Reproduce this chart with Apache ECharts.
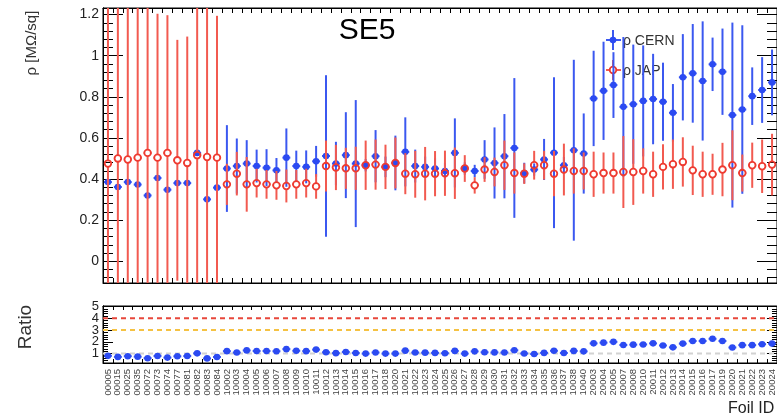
<!DOCTYPE html>
<html><head><meta charset="utf-8">
<script src="https://cdn.jsdelivr.net/npm/echarts@6/dist/echarts.min.js"></script>
<style>html,body{margin:0;padding:0;background:#fff}#c{width:777px;height:417px}</style>
</head><body><div id="c"></div>
<script>
const foilIds = ['00005','00015','00025','00035','00072','00073','00074','00077','00081','00082','00083','00084',
'10002','10003','10004','10005','10006','10007','10008','10009','10010','10011','10012','10013','10014','10015','10016','10017','10018','10020',
'10021','10022','10023','10024','10025','10026','10027','10028','10029','10030','10031','10032','10033','10034','10035','10036','10037','10038','10040',
'20003','20004','20005','20007','20008','20010','20011','20012','20013','20014','20015','20016','20017','20019','20020','20021','20022','20023','20024'];
const cernRho = [0.385,0.361,0.385,0.373,0.320,0.405,0.348,0.380,0.380,0.527,0.301,0.358,
0.451,0.463,0.475,0.463,0.455,0.442,0.504,0.463,0.459,0.486,0.512,0.475,0.516,0.475,0.467,0.511,0.459,0.478,
0.532,0.463,0.459,0.451,0.439,0.527,0.451,0.439,0.495,0.478,0.511,0.551,0.429,0.446,0.495,0.528,0.467,0.540,0.524,
0.792,0.829,0.857,0.751,0.764,0.780,0.789,0.776,0.722,0.895,0.914,0.877,0.958,0.922,0.711,0.738,0.803,0.833,0.870];
const cernErr = [0,0,0,0,0,0,0,0,0,0,0,0,
0.211,0.134,0.114,0.080,0.090,0.060,0.142,0.075,0.080,0.075,0.393,0.106,0.209,0.309,0.030,0.127,0.050,0.133,
0.168,0.080,0.050,0.050,0.040,0.168,0.030,0.030,0.094,0.173,0.205,0.340,0.050,0.030,0.100,0.367,0.040,0.440,0.195,
0.232,0.239,0.160,0.340,0.290,0.270,0.220,0.190,0.140,0.210,0.240,0.290,0.130,0.210,0.450,0.410,0.140,0.160,0.160];
const japRho = [0.475,0.500,0.495,0.504,0.527,0.504,0.527,0.491,0.478,0.516,0.507,0.504,
0.374,0.426,0.374,0.380,0.374,0.369,0.366,0.374,0.380,0.364,0.463,0.456,0.452,0.452,0.467,0.470,0.459,0.478,
0.426,0.423,0.426,0.426,0.428,0.428,0.451,0.369,0.446,0.434,0.467,0.429,0.426,0.467,0.467,0.426,0.446,0.439,0.439,
0.423,0.429,0.429,0.434,0.434,0.439,0.423,0.459,0.472,0.483,0.442,0.423,0.423,0.446,0.467,0.429,0.467,0.462,0.470];
const japErr = [1.0,1.0,1.0,1.0,0.9,0.70,0.67,0.586,0.615,0.9,0.9,0.69,
0.100,0.106,0.133,0.070,0.070,0.070,0.080,0.070,0.070,0.060,0.124,0.110,0.100,0.105,0.120,0.122,0.108,0.124,
0.100,0.114,0.130,0.110,0.110,0.125,0.065,0.040,0.060,0.070,0.120,0.100,0.050,0.070,0.070,0.110,0.126,0.110,0.090,
0.110,0.100,0.100,0.175,0.160,0.110,0.110,0.110,0.120,0.120,0.120,0.110,0.100,0.130,0.170,0.090,0.110,0.130,0.150];
const ratio = [0.81,0.72,0.78,0.74,0.61,0.80,0.66,0.77,0.79,1.02,0.59,0.71,
1.21,1.09,1.27,1.22,1.22,1.20,1.38,1.24,1.21,1.34,1.11,1.04,1.14,1.05,1.00,1.09,1.00,1.00,
1.25,1.09,1.08,1.06,1.03,1.23,1.00,1.19,1.11,1.10,1.09,1.28,1.01,0.96,1.06,1.24,1.05,1.23,1.19,
1.87,1.93,2.00,1.73,1.76,1.78,1.87,1.69,1.53,1.85,2.07,2.07,2.26,2.07,1.52,1.72,1.72,1.80,1.85];
const ratioRefLines = [1, 3, 4];
const rhoTicks = [0, 0.2, 0.4, 0.6, 0.8, 1, 1.2];
const ratioTicks = [1, 2, 3, 4, 5];
const ratioLabelsOdd = [1, 3, 5];
const ratioLabelsEven = [2, 4];

const BLUE = '#2b4af2', BLUE_LINE = '#3b58f0', RED = '#ee3a30', RED_LINE = '#f25a50';
const FONT = 'Liberation Sans, Arial, sans-serif';

function minorList(lo, hi, step, majors){
  const out = [];
  for (let k = Math.ceil(lo/step - 1e-9); k*step <= hi + 1e-9; k++){
    const v = +(k*step).toFixed(4);
    if (!majors.some(m => Math.abs(m - v) < 1e-6)) out.push(v);
  }
  return out;
}
const rhoMinor = minorList(-0.1, 1.23, 0.04, rhoTicks);
const ratioMinor = minorList(0.2, 5.0, 0.2, ratioTicks);

function clampY(cs, y){ return Math.max(cs.y, Math.min(cs.y + cs.height, y)); }
function seg(x1,y1,x2,y2,color,w){ return {type:'line', shape:{x1,y1,x2,y2}, style:{stroke:color, lineWidth:w}}; }

function renderFilled(params, api){
  const cs = params.coordSys;
  const i = api.value(0), v = api.value(1), e = api.value(2);
  const p = api.coord([i, v]);
  const hw = api.size([1, 0])[0] * 0.4;
  const ch = [];
  if (e > 0){
    const yt = clampY(cs, api.coord([i, v + e])[1]);
    const yb = clampY(cs, api.coord([i, v - e])[1]);
    ch.push(seg(p[0], yt, p[0], yb, BLUE_LINE, 2));
  }
  ch.push(seg(p[0]-hw, p[1], p[0]+hw, p[1], BLUE_LINE, 2));
  ch.push({type:'circle', shape:{cx:p[0], cy:p[1], r:3.3}, style:{fill:BLUE}});
  return {type:'group', children: ch};
}
function renderOpen(params, api){
  const cs = params.coordSys;
  const i = api.value(0), v = api.value(1), e = api.value(2);
  const p = api.coord([i, v]);
  const hw = api.size([1, 0])[0] * 0.4;
  const r = 3.3;
  const yt = clampY(cs, api.coord([i, v + e])[1]);
  const yb = clampY(cs, api.coord([i, v - e])[1]);
  const ch = [];
  if (yt < p[1]-r) ch.push(seg(p[0], yt, p[0], p[1]-r, RED_LINE, 2));
  if (yb > p[1]+r) ch.push(seg(p[0], p[1]+r, p[0], yb, RED_LINE, 2));
  ch.push(seg(p[0]-hw, p[1], p[0]-r, p[1], RED_LINE, 2));
  ch.push(seg(p[0]+r, p[1], p[0]+hw, p[1], RED_LINE, 2));
  ch.push({type:'circle', shape:{cx:p[0], cy:p[1], r:r}, style:{fill:'rgba(0,0,0,0)', stroke:RED, lineWidth:1.8}});
  return {type:'group', children: ch};
}
const refColors = ['#d2d2d2', '#f5c243', '#e8473b'];
function renderRef(params, api){
  const cs = params.coordSys;
  const y = api.coord([0, api.value(1)])[1];
  return {type:'line', shape:{x1:cs.x, y1:y, x2:cs.x+cs.width, y2:y},
    style:{stroke: refColors[params.dataIndex], lineWidth:2, lineDash:[5,4]}};
}

const catAxis = (grid, pos, showLabel, tickLen) => ({
  type:'category', gridIndex:grid, position:pos, data:foilIds, boundaryGap:true,
  axisLine:{show:true, onZero:false, lineStyle:{color:'#000', width:1}},
  axisTick:{show:true, inside:true, length:tickLen, interval:0, lineStyle:{color:'#000'}},
  axisLabel: showLabel ? {show:true, interval:0, rotate:90, fontSize:9.5, margin:6, color:'#444', fontFamily:FONT} : {show:false},
  splitLine:{show:false}
});
const valAxis = (grid, pos, min, max, ticks, len, labelVals, fs) => ({
  type:'value', gridIndex:grid, position:pos, min:min, max:max, offset:0,
  axisLine:{show:true, onZero:false, lineStyle:{color:'#000', width:1}},
  axisTick:{show:true, inside:true, length:len, customValues:ticks, lineStyle:{color:'#000'}},
  axisLabel: labelVals ? {show:true, customValues:labelVals, margin:4, fontSize:fs, color:'#222', fontFamily:FONT,
     showMinLabel:true, showMaxLabel:true, hideOverlap:false,
     formatter: v => String(+(+v).toFixed(2))} : {show:false},
  splitLine:{show:false}
});

const chart = echarts.init(document.getElementById('c'), null, {renderer:'canvas'});
chart.setOption({
  animation:false,
  backgroundColor:'#fff',
  grid:[
    {left:103, top:8, width:675, height:275, show:true, borderColor:'#000', borderWidth:1, backgroundColor:'transparent'},
    {left:103, top:306, width:675, height:57, show:true, borderColor:'#000', borderWidth:1, backgroundColor:'transparent'}
  ],
  xAxis:[ catAxis(0,'bottom',false,5), catAxis(0,'top',false,5), catAxis(1,'bottom',true,4), catAxis(1,'top',false,4) ],
  yAxis:[
    valAxis(0,'left',-0.106,1.232,rhoTicks,20,rhoTicks,14),
    valAxis(0,'left',-0.106,1.232,rhoMinor,10,null),
    valAxis(0,'right',-0.106,1.232,rhoTicks,20,null),
    valAxis(0,'right',-0.106,1.232,rhoMinor,10,null),
    valAxis(1,'left',0.2,5.05,ratioTicks,10,ratioLabelsOdd,13),
    valAxis(1,'left',0.2,5.05,ratioMinor,5,ratioLabelsEven,13),
    valAxis(1,'right',0.2,5.05,ratioTicks,10,null),
    valAxis(1,'right',0.2,5.05,ratioMinor,5,null)
  ],
  series:[
    {type:'custom', name:'ρ CERN', xAxisIndex:0, yAxisIndex:0, renderItem:renderFilled, z:3,
     data: cernRho.map((v,i)=>[i, v, cernErr[i]])},
    {type:'custom', name:'ρ JAP', xAxisIndex:0, yAxisIndex:0, renderItem:renderOpen, z:4,
     data: japRho.map((v,i)=>[i, v, japErr[i]])},
    {type:'custom', name:'ref', xAxisIndex:2, yAxisIndex:4, renderItem:renderRef, z:2,
     data: ratioRefLines.map(v=>[0, v])},
    {type:'custom', name:'Ratio', xAxisIndex:2, yAxisIndex:4, renderItem:renderFilled, z:5,
     data: ratio.map((v,i)=>[i, v, 0])}
  ],
  graphic:[
    {type:'text', x:367, y:31, z:10, style:{text:'SE5', fontSize:30, fontFamily:FONT, fill:'#000', align:'center', verticalAlign:'middle'}},
    {type:'text', x:32, y:43, rotation:Math.PI/2, z:10, style:{text:'ρ [MΩ/sq]', fontSize:15, fontFamily:FONT, fill:'#333', align:'center', verticalAlign:'middle'}},
    {type:'text', x:26, y:327, rotation:Math.PI/2, z:10, style:{text:'Ratio', fontSize:19, fontFamily:FONT, fill:'#333', align:'center', verticalAlign:'middle'}},
    {type:'text', x:728, y:409, z:10, style:{text:'Foil ID', fontSize:16, fontFamily:FONT, fill:'#222', align:'left', verticalAlign:'middle'}},
    {type:'group', z:10, children:[
      {type:'line', shape:{x1:606,y1:40,x2:621,y2:40}, style:{stroke:BLUE_LINE, lineWidth:2}},
      {type:'line', shape:{x1:613,y1:30,x2:613,y2:50}, style:{stroke:BLUE_LINE, lineWidth:2}},
      {type:'circle', shape:{cx:613,cy:40,r:3.3}, style:{fill:BLUE}},
      {type:'text', x:623, y:41, style:{text:'ρ CERN', fontSize:14, fontFamily:FONT, fill:'#333', verticalAlign:'middle'}},
      {type:'line', shape:{x1:606,y1:70,x2:621,y2:70}, style:{stroke:RED_LINE, lineWidth:2}},
      {type:'line', shape:{x1:613,y1:60,x2:613,y2:80}, style:{stroke:RED_LINE, lineWidth:2}},
      {type:'circle', shape:{cx:613,cy:70,r:3.3}, style:{fill:'#fff', stroke:RED, lineWidth:1.8}},
      {type:'text', x:623, y:71, style:{text:'ρ JAP', fontSize:14, fontFamily:FONT, fill:'#333', verticalAlign:'middle'}}
    ]}
  ]
});
</script></body></html>
